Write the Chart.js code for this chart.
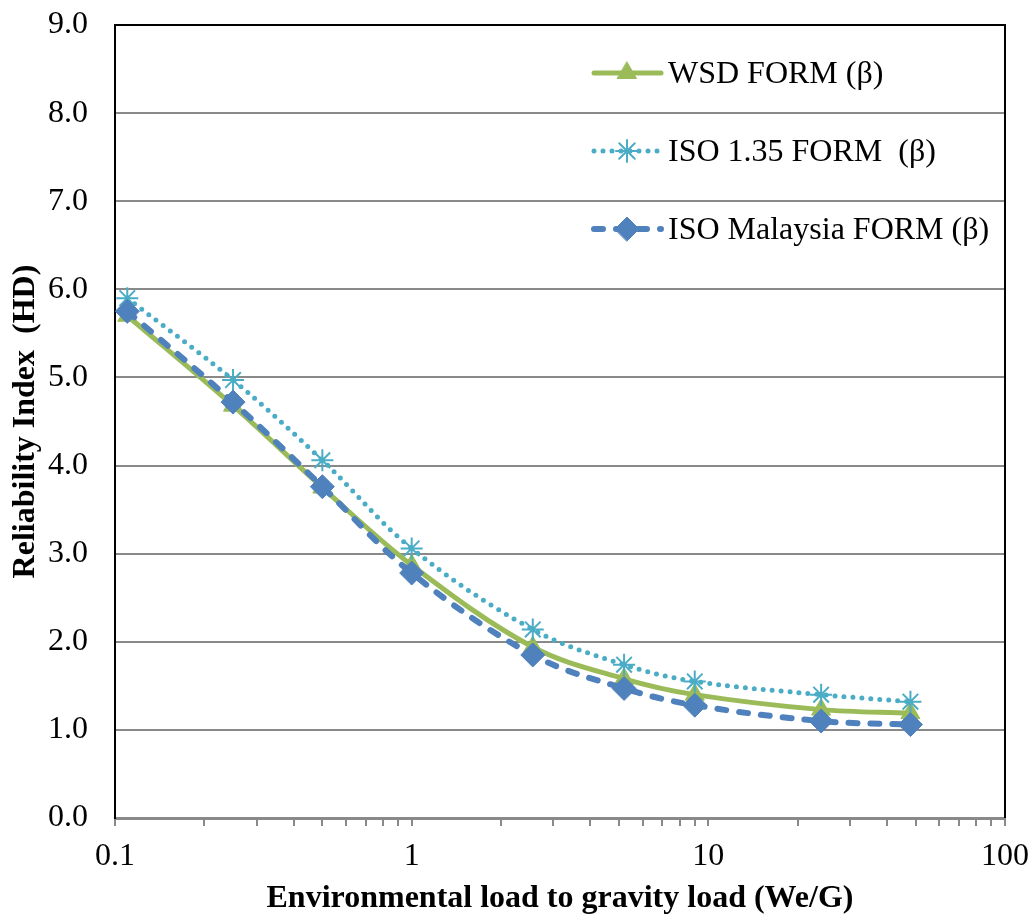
<!DOCTYPE html>
<html>
<head>
<meta charset="utf-8">
<script src="https://cdn.jsdelivr.net/npm/chart.js@4.4.1/dist/chart.umd.min.js"></script>
<style>
  html, body { margin: 0; padding: 0; background: #fff; }
  #wrap { width: 1033px; height: 918px; }
</style>
</head>
<body>
<div id="wrap"><canvas id="myChart" width="1033" height="918"></canvas></div>
<script>
// load ratio We/G
const loadRatio = [0.11, 0.25, 0.5, 1, 2.56, 5.2, 9, 24, 48];
const wsdBeta = [5.70, 4.68, 3.75, 2.87, 1.94, 1.58, 1.40, 1.23, 1.19];
const iso135Beta = [5.90, 4.97, 4.06, 3.06, 2.14, 1.74, 1.55, 1.40, 1.32];
const isoMalaysiaBeta = [5.75, 4.72, 3.76, 2.78, 1.85, 1.47, 1.28, 1.10, 1.06];
const xTickLabels = [0.1, 1, 10, 100];

const FONT = "'Liberation Serif', 'Times New Roman', serif";

function toPoints(ys) {
    return loadRatio.map((x, i) => ({ x: x, y: ys[i] }));
}

// legend drawn inside the plot, top right + black frame on top/right
const innerLegend = {
    id: 'innerLegend',
    afterDatasetsDraw(chart) {
        const ctx = chart.ctx;
        const area = chart.chartArea;
        ctx.save();
        ctx.strokeStyle = '#000';
        ctx.lineWidth = 2;
        ctx.beginPath();
        ctx.moveTo(area.left, area.top);
        ctx.lineTo(area.right, area.top);
        ctx.lineTo(area.right, area.bottom);
        ctx.stroke();

        const rows = [73, 151, 229];
        chart.data.datasets.forEach((ds, i) => {
            const y = rows[i];
            ctx.strokeStyle = ds.borderColor;
            ctx.lineWidth = ds.borderWidth;
            ctx.lineCap = 'round';
            ctx.setLineDash(ds.borderDash || []);
            ctx.beginPath();
            ctx.moveTo(594, y);
            ctx.lineTo(661, y);
            ctx.stroke();
            ctx.setLineDash([]);
            ctx.fillStyle = ds.pointBackgroundColor;
            ctx.strokeStyle = ds.pointBorderColor;
            ctx.lineWidth = ds.pointBorderWidth;
            Chart.helpers.drawPoint(ctx, {
                pointStyle: ds.pointStyle,
                radius: ds.pointRadius,
                borderWidth: ds.pointBorderWidth,
                rotation: 0
            }, 627, y);
            ctx.fillStyle = '#000';
            ctx.font = '32px ' + FONT;
            ctx.textBaseline = 'middle';
            ctx.textAlign = 'left';
            ctx.fillText(ds.label, 668, y + 2);
        });
        ctx.restore();
    }
};

function initChart() {
    const ctx = document.getElementById('myChart').getContext('2d');
    new Chart(ctx, {
        type: 'line',
        data: {
            datasets: [{
                label: 'WSD FORM (\u03b2)',
                data: toPoints(wsdBeta),
                borderColor: '#9BBB59',
                backgroundColor: '#9BBB59',
                borderWidth: 5,
                tension: 0.35,
                pointStyle: 'triangle',
                pointRadius: 11,
                pointBackgroundColor: '#9BBB59',
                pointBorderColor: '#9BBB59',
                pointBorderWidth: 1,
                order: 2
            }, {
                label: 'ISO 1.35 FORM  (\u03b2)',
                data: toPoints(iso135Beta),
                borderColor: '#4BACC6',
                backgroundColor: '#4BACC6',
                borderWidth: 5,
                borderDash: [0, 9],
                borderCapStyle: 'round',
                tension: 0.35,
                pointStyle: 'star',
                pointRadius: 11,
                pointBackgroundColor: '#4BACC6',
                pointBorderColor: '#4BACC6',
                pointBorderWidth: 2,
                order: 1
            }, {
                label: 'ISO Malaysia FORM (\u03b2)',
                data: toPoints(isoMalaysiaBeta),
                borderColor: '#4F81BD',
                backgroundColor: '#4F81BD',
                borderWidth: 6,
                borderDash: [9, 13],
                borderCapStyle: 'round',
                tension: 0.35,
                pointStyle: 'rectRot',
                pointRadius: 12,
                pointBackgroundColor: '#4F81BD',
                pointBorderColor: '#4F81BD',
                pointBorderWidth: 1,
                order: 0
            }]
        },
        options: {
            responsive: false,
            animation: false,
            layout: { padding: { top: 25, right: 28, left: 0, bottom: 0 } },
            plugins: {
                legend: { display: false },
                tooltip: { enabled: false }
            },
            scales: {
                x: {
                    type: 'logarithmic',
                    min: 0.1,
                    max: 100,
                    afterBuildTicks(scale) {
                        const ticks = [];
                        for (let d = 0.1; d < 100; d *= 10) {
                            for (let m = 1; m < 10; m++) ticks.push({ value: +(d * m).toPrecision(3) });
                        }
                        ticks.push({ value: 100 });
                        scale.ticks = ticks;
                    },
                    afterFit(scale) {
                        scale.height = 100;
                        scale.paddingLeft = 0;
                        scale.paddingRight = 0;
                    },
                    grid: {
                        drawOnChartArea: false,
                        drawTicks: true,
                        tickLength: 8,
                        color: '#898989',
                        lineWidth: 2
                    },
                    border: { display: true, color: '#898989', width: 3 },
                    ticks: {
                        autoSkip: false,
                        maxRotation: 0,
                        padding: 11,
                        color: '#000',
                        font: { family: FONT, size: 32 },
                        callback(value) {
                            return xTickLabels.some(t => Math.abs(t - value) < 1e-9) ? String(value) : '';
                        }
                    },
                    title: {
                        display: true,
                        text: 'Environmental load to gravity load (We/G)',
                        color: '#000',
                        font: { family: FONT, size: 32, weight: 'bold' },
                        padding: { top: 4, bottom: 0 }
                    }
                },
                y: {
                    min: 0,
                    max: 9,
                    afterFit(scale) {
                        scale.width = 115;
                        scale.paddingTop = 0;
                        scale.paddingBottom = 0;
                    },
                    grid: {
                        color: '#898989',
                        lineWidth: 2,
                        drawTicks: false
                    },
                    border: { display: true, color: '#000', width: 2 },
                    ticks: {
                        stepSize: 1,
                        padding: 27,
                        color: '#000',
                        font: { family: FONT, size: 32 },
                        callback(value) { return value.toFixed(1); }
                    },
                    title: {
                        display: true,
                        text: 'Reliability Index  (HD)',
                        color: '#000',
                        font: { family: FONT, size: 32, weight: 'bold' },
                        padding: { top: 7, bottom: 0 }
                    }
                }
            }
        },
        plugins: [innerLegend]
    });
}

document.addEventListener('DOMContentLoaded', initChart);
</script>
</body>
</html>
